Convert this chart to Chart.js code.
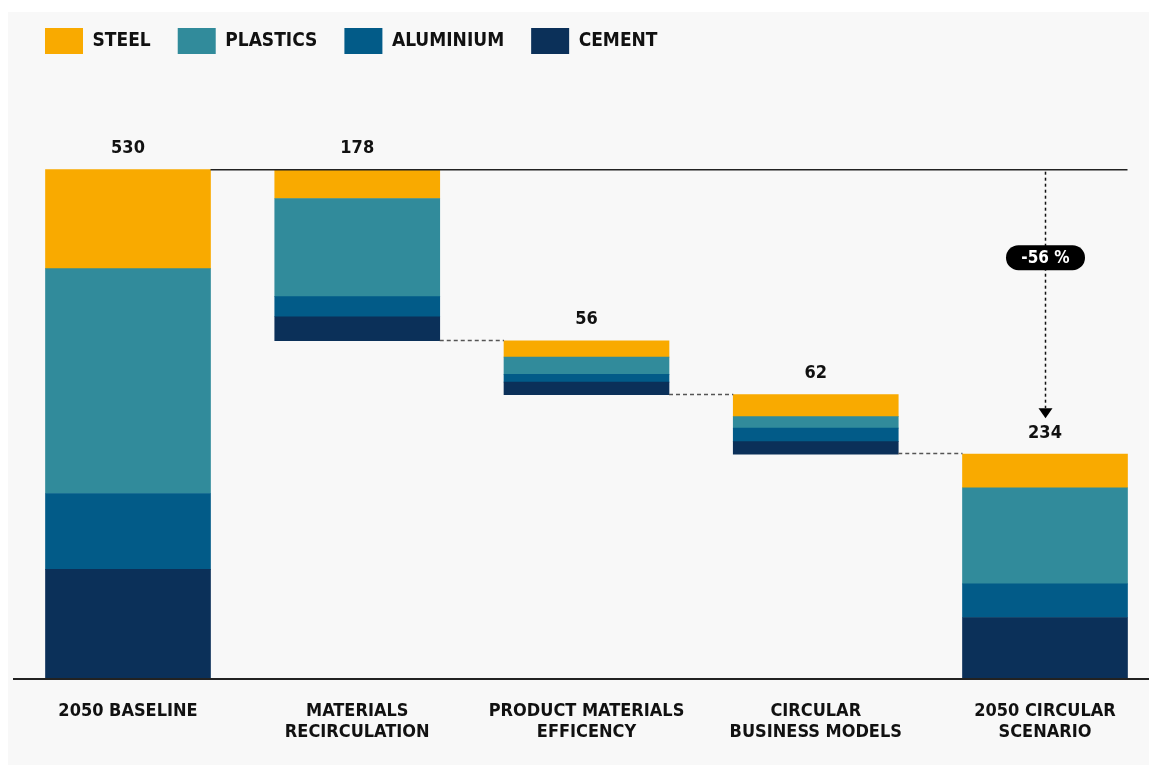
<!DOCTYPE html>
<html>
<head>
<meta charset="utf-8">
<title>Material emissions 2050</title>
<script src="https://cdn.jsdelivr.net/npm/chart.js@4.4.1/dist/chart.umd.min.js"></script>
<style>
  html, body { margin: 0; padding: 0; background: #fff; }
  #wrap { width: 1149px; height: 765px; position: relative; }
</style>
</head>
<body>
<div id="wrap"><canvas id="waterfall"></canvas></div>
<script>
// Waterfall data, Mt CO2 per material
const categories = [
  ["2050 BASELINE"],
  ["MATERIALS", "RECIRCULATION"],
  ["PRODUCT MATERIALS", "EFFICENCY"],
  ["CIRCULAR", "BUSINESS MODELS"],
  ["2050 CIRCULAR", "SCENARIO"]
];
const steel = [103, 30, 17, 23, 35];
const plastics = [234, 102, 18, 12, 100];
const aluminium = [79, 21, 8, 14, 35];
const cement = [114, 25, 13, 13, 64];
const totals = [530, 178, 56, 62, 234];
const changeLabel = "-56 %";

const colors = {
  steel: "#f9aa00",
  plastics: "#318b9b",
  aluminium: "#025b88",
  cement: "#0b3059"
};

// invisible base so the reduction steps float at the running total
const baseOffset = totals.map((t, i) => {
  if (i === 0 || i === totals.length - 1) return 0;
  return totals[0] - totals.slice(1, i + 1).reduce((a, b) => a + b, 0);
});

const FONT = "'DejaVu Sans Condensed', 'DejaVu Sans', sans-serif";

const waterfallMarks = {
  id: "waterfallMarks",
  beforeDraw(chart) {
    const ctx = chart.ctx;
    ctx.save();
    ctx.fillStyle = "#ffffff";
    ctx.fillRect(0, 0, chart.width, chart.height);
    ctx.fillStyle = "#f8f8f8";
    ctx.fillRect(8, 12, chart.width - 8, chart.height - 12);
    ctx.restore();
  },
  afterDatasetsDraw(chart) {
    const ctx = chart.ctx;
    const yScale = chart.scales.y;
    const bars = chart.getDatasetMeta(chart.data.datasets.length - 1).data;
    const last = bars.length - 1;
    const half = bars[0].width / 2;
    const yTop = yScale.getPixelForValue(totals[0]);

    ctx.save();
    // baseline level carried across to the final bar
    ctx.strokeStyle = "#222";
    ctx.lineWidth = 1.5;
    ctx.beginPath();
    ctx.moveTo(bars[0].x + half, yTop);
    ctx.lineTo(bars[last].x + half, yTop);
    ctx.stroke();

    // dashed connectors between steps
    ctx.strokeStyle = "#555";
    ctx.lineWidth = 1.3;
    ctx.setLineDash([4, 3]);
    for (let i = 1; i < last; i++) {
      const y = Math.round(yScale.getPixelForValue(baseOffset[i])) - 0.5;
      ctx.beginPath();
      ctx.moveTo(bars[i].x + half, y);
      ctx.lineTo(bars[i + 1].x - half, y);
      ctx.stroke();
    }

    // axis line
    ctx.setLineDash([]);
    ctx.strokeStyle = "#222";
    ctx.lineWidth = 2;
    ctx.beginPath();
    ctx.moveTo(13, chart.chartArea.bottom);
    ctx.lineTo(chart.width, chart.chartArea.bottom);
    ctx.stroke();

    // totals above each bar
    ctx.fillStyle = "#111";
    ctx.font = "bold 18px " + FONT;
    ctx.textAlign = "center";
    ctx.textBaseline = "middle";
    bars.forEach((bar, i) => {
      ctx.fillText(String(totals[i]), bar.x, bar.y - 21);
    });

    // change arrow down to the circular scenario
    const ax = Math.round(bars[last].x) + 0.5;
    const tipY = bars[last].y - 36;
    ctx.strokeStyle = "#111";
    ctx.lineWidth = 1.5;
    ctx.setLineDash([3, 3]);
    ctx.beginPath();
    ctx.moveTo(ax, yTop + 2);
    ctx.lineTo(ax, tipY - 10);
    ctx.stroke();
    ctx.setLineDash([]);
    ctx.fillStyle = "#000";
    ctx.beginPath();
    ctx.moveTo(ax - 7, tipY - 10);
    ctx.lineTo(ax + 7, tipY - 10);
    ctx.lineTo(ax, tipY);
    ctx.closePath();
    ctx.fill();

    // pill with the percentage change
    const py = yTop + 88;
    const pw = 79, ph = 25;
    ctx.beginPath();
    ctx.roundRect(ax - pw / 2, py - ph / 2, pw, ph, ph / 2);
    ctx.fill();
    ctx.fillStyle = "#fff";
    ctx.font = "bold 17px " + FONT;
    ctx.fillText(changeLabel, ax, py + 1);
    ctx.restore();
  }
};

const ctxChart = document.getElementById("waterfall").getContext("2d");
new Chart(ctxChart, {
  type: "bar",
  data: {
    labels: categories,
    datasets: [
      { label: "base", data: baseOffset, backgroundColor: "rgba(0,0,0,0)" },
      { label: "CEMENT", data: cement, backgroundColor: colors.cement },
      { label: "ALUMINIUM", data: aluminium, backgroundColor: colors.aluminium },
      { label: "PLASTICS", data: plastics, backgroundColor: colors.plastics },
      { label: "STEEL", data: steel, backgroundColor: colors.steel }
    ]
  },
  options: {
    responsive: true,
    maintainAspectRatio: false,
    animation: false,
    layout: { padding: { left: 18, right: 104, top: 1, bottom: 0 } },
    datasets: {
      bar: { barThickness: 165, borderWidth: 0, clip: false }
    },
    plugins: {
      tooltip: { enabled: false },
      legend: {
        position: "top",
        align: "start",
        reverse: true,
        labels: {
          boxWidth: 38,
          boxHeight: 26,
          padding: 27,
          color: "#111",
          font: { family: FONT, size: 19, weight: "bold" },
          filter: item => item.text !== "base"
        }
      }
    },
    scales: {
      x: {
        stacked: true,
        offset: false,
        grid: { display: false, drawTicks: false },
        border: { display: false },
        ticks: {
          autoSkip: false,
          maxRotation: 0,
          padding: 22,
          color: "#111",
          font: { family: FONT, size: 18, weight: "bold", lineHeight: 1.15 }
        },
        afterFit: scale => { scale.height = 86; }
      },
      y: {
        stacked: true,
        min: 0,
        max: 640,
        grid: { display: false },
        border: { display: false },
        ticks: { display: false },
        afterFit: scale => { scale.width = 110; }
      }
    }
  },
  plugins: [waterfallMarks]
});
</script>
</body>
</html>
